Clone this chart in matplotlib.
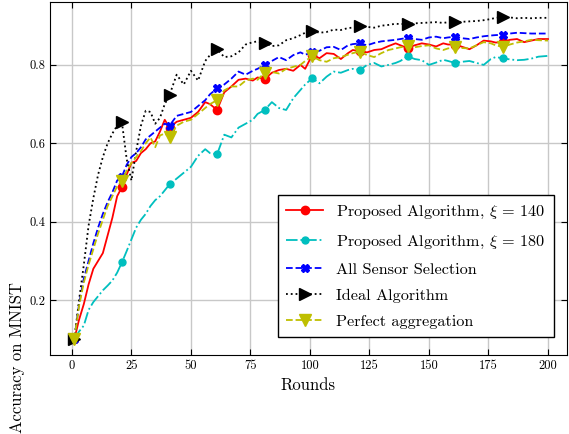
import numpy as np
import matplotlib
matplotlib.use("Agg")
import matplotlib.pyplot as plt

plt.rcParams['font.family'] = 'serif'
plt.rcParams['font.serif'] = ['cmr10', 'DejaVu Serif']
plt.rcParams['mathtext.fontset'] = 'cm'
plt.rcParams['axes.unicode_minus'] = False

rounds = [1, 3, 5, 7, 9, 11, 13, 15, 17, 19, 21, 23, 25, 27, 29, 31, 33, 35, 37, 39,
          41, 44, 47, 50, 53, 56, 58, 61, 64, 67, 70, 73, 76, 78, 81, 84, 87, 90, 93, 96, 98,
          101, 104, 107, 110, 113, 116, 118, 121, 124, 127, 130, 133, 136, 138, 141, 144, 147,
          150, 153, 156, 158, 161, 164, 167, 170, 173, 176, 178, 181, 184, 187, 190, 193, 196, 200]

proposed_140 = [0.10, 0.15, 0.19, 0.24, 0.28, 0.30, 0.32, 0.365, 0.41, 0.465, 0.488, 0.52, 0.55,
                0.555, 0.575, 0.585, 0.60, 0.605, 0.63, 0.66,
                0.64, 0.655, 0.66, 0.665, 0.68, 0.705, 0.70, 0.685, 0.73, 0.745, 0.762, 0.765, 0.76,
                0.768, 0.764, 0.78, 0.787, 0.79, 0.785, 0.80, 0.79,
                0.826, 0.817, 0.83, 0.828, 0.815, 0.83, 0.838, 0.835, 0.832, 0.838, 0.84, 0.848,
                0.855, 0.85, 0.843, 0.85, 0.855, 0.852, 0.847, 0.855, 0.852, 0.852, 0.846, 0.84,
                0.85, 0.862, 0.86, 0.857, 0.858, 0.864, 0.866, 0.858, 0.862, 0.866, 0.866]

proposed_180 = [0.10, 0.12, 0.135, 0.175, 0.195, 0.21, 0.225, 0.237, 0.25, 0.27, 0.296, 0.325,
                0.355, 0.385, 0.405, 0.42, 0.44, 0.455, 0.465, 0.48,
                0.495, 0.51, 0.525, 0.54, 0.568, 0.585, 0.575, 0.572, 0.622, 0.615, 0.64, 0.65,
                0.66, 0.675, 0.685, 0.705, 0.69, 0.685, 0.715, 0.736, 0.75,
                0.766, 0.753, 0.77, 0.783, 0.78, 0.787, 0.79, 0.787, 0.80, 0.805, 0.796, 0.80,
                0.805, 0.81, 0.822, 0.815, 0.812, 0.80, 0.806, 0.813, 0.81, 0.805, 0.808, 0.81,
                0.805, 0.80, 0.815, 0.82, 0.817, 0.814, 0.812, 0.813, 0.816, 0.821, 0.823]

all_sensor = [0.10, 0.19, 0.255, 0.30, 0.345, 0.385, 0.42, 0.45, 0.475, 0.505, 0.515, 0.545,
              0.565, 0.575, 0.59, 0.61, 0.62, 0.63, 0.64, 0.65,
              0.645, 0.67, 0.675, 0.68, 0.695, 0.71, 0.725, 0.74, 0.75, 0.765, 0.783, 0.775,
              0.785, 0.79, 0.80, 0.81, 0.82, 0.812, 0.825, 0.832, 0.826,
              0.832, 0.836, 0.845, 0.846, 0.838, 0.85, 0.853, 0.855, 0.85, 0.856, 0.86, 0.862,
              0.864, 0.866, 0.869, 0.866, 0.864, 0.87, 0.872, 0.868, 0.87, 0.872, 0.868, 0.866,
              0.87, 0.873, 0.875, 0.876, 0.877, 0.88, 0.882, 0.881, 0.88, 0.88, 0.88]

ideal = [0.10, 0.20, 0.29, 0.39, 0.46, 0.52, 0.565, 0.60, 0.625, 0.645, 0.654, 0.56, 0.505,
         0.58, 0.645, 0.683, 0.68, 0.65, 0.665, 0.70,
         0.723, 0.775, 0.75, 0.785, 0.76, 0.81, 0.825, 0.84, 0.82, 0.822, 0.832, 0.852, 0.858,
         0.86, 0.856, 0.848, 0.85, 0.863, 0.868, 0.876, 0.882,
         0.887, 0.882, 0.884, 0.89, 0.889, 0.894, 0.895, 0.898, 0.897, 0.895, 0.90, 0.902,
         0.905, 0.904, 0.905, 0.906, 0.907, 0.908, 0.909, 0.907, 0.909, 0.909, 0.91, 0.911,
         0.912, 0.914, 0.917, 0.92, 0.922, 0.921, 0.919, 0.92, 0.919, 0.92, 0.92]

perfect = [0.10, 0.185, 0.245, 0.29, 0.33, 0.37, 0.405, 0.44, 0.465, 0.49, 0.505, 0.53, 0.55,
           0.565, 0.58, 0.60, 0.615, 0.59, 0.62, 0.625,
           0.616, 0.645, 0.655, 0.66, 0.675, 0.69, 0.70, 0.71, 0.735, 0.745, 0.745, 0.76, 0.765,
           0.762, 0.78, 0.782, 0.778, 0.79, 0.795, 0.80, 0.81,
           0.822, 0.812, 0.808, 0.817, 0.82, 0.826, 0.83, 0.834, 0.825, 0.82, 0.83, 0.838,
           0.842, 0.845, 0.847, 0.845, 0.848, 0.85, 0.842, 0.838, 0.842, 0.845, 0.843, 0.842,
           0.85, 0.858, 0.855, 0.85, 0.846, 0.852, 0.857, 0.86, 0.864, 0.863, 0.862]

marker_rounds = [1, 21, 41, 61, 81, 101, 121, 141, 161, 181]
xticks = [0, 25, 50, 75, 100, 125, 150, 175, 200]
yticks = [0.2, 0.4, 0.6, 0.8]

mk = [i for i, r in enumerate(rounds) if r in marker_rounds]

fig = plt.figure(figsize=(5.69, 4.34), dpi=100)
ax = fig.add_axes([0.0879, 0.182, 0.9086, 0.813])

ax.plot(rounds, proposed_140, 'r-', marker='o', ms=6, lw=1.3, markevery=mk,
        label=r'Proposed Algorithm, $\xi$ = 140')
ax.plot(rounds, proposed_180, 'c-.', marker='o', ms=5, lw=1.3, markevery=mk,
        label=r'Proposed Algorithm, $\xi$ = 180')
ax.plot(rounds, all_sensor, 'b--', marker='X', ms=6, lw=1.3, markevery=mk,
        label='All Sensor Selection')
ax.plot(rounds, ideal, 'k:', marker='>', ms=9, lw=1.3, markevery=mk,
        label='Ideal Algorithm')
ax.plot(rounds, perfect, 'y--', marker='v', ms=9, lw=1.3, markevery=mk,
        label='Perfect aggregation')

ax.set_xlim(-9.2, 208)
ax.set_ylim(0.06, 0.96)
ax.set_xticks(xticks)
ax.set_xticklabels([str(t) for t in xticks], fontsize=9)
ax.set_yticks(yticks)
ax.set_yticklabels([str(t) for t in yticks], fontsize=9)
ax.tick_params(direction='in', top=True, right=True, length=4)
ax.grid(True, color='#c8c8c8', lw=1)
ax.set_axisbelow(True)

ax.set_xlabel('Rounds', fontsize=12, labelpad=4)
ax.set_ylabel('Accuracy on MNIST', fontsize=12)
ax.yaxis.set_label_coords(-0.048, -0.006)

leg = ax.legend(loc='lower right', bbox_to_anchor=(0.99, 0.028), fontsize=11.7,
                fancybox=False, framealpha=1, edgecolor='black', handlelength=2.3,
                handletextpad=0.8, labelspacing=0.72, borderpad=0.5)
leg.get_frame().set_linewidth(1.0)

fig.savefig('out.png', dpi=100)
